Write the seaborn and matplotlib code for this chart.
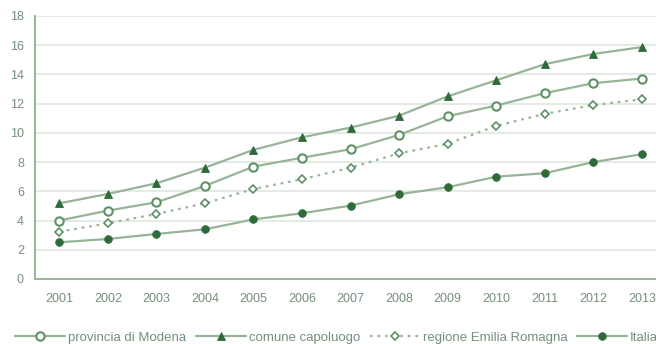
import matplotlib
matplotlib.use("Agg")
import matplotlib.pyplot as plt
from matplotlib.ticker import MultipleLocator, FixedLocator
import seaborn as sns
import pandas as pd

years = list(range(2001, 2014))
provincia_modena = [4.0, 4.68, 5.25, 6.37, 7.69, 8.3, 8.88, 9.86, 11.14, 11.87, 12.72, 13.4, 13.72]
comune_capoluogo = [5.18, 5.82, 6.55, 7.62, 8.84, 9.7, 10.36, 11.18, 12.5, 13.6, 14.7, 15.4, 15.87]
regione_emilia = [3.24, 3.81, 4.45, 5.18, 6.16, 6.83, 7.62, 8.6, 9.25, 10.48, 11.3, 11.9, 12.3]
italia = [2.51, 2.74, 3.08, 3.4, 4.08, 4.5, 5.02, 5.8, 6.28, 7.0, 7.24, 8.0, 8.54]

series_names = ["provincia di Modena", "comune capoluogo", "regione Emilia Romagna", "Italia"]
series_values = [provincia_modena, comune_capoluogo, regione_emilia, italia]

rows = []
for name, vals in zip(series_names, series_values):
    for y, v in zip(years, vals):
        rows.append({"anno": y, "valore": v, "serie": name})
df = pd.DataFrame(rows)

sns.set_theme(style="white")
plt.rcParams["font.family"] = ["Liberation Sans", "DejaVu Sans"]

LINE = "#97b499"
DARK = "#2f6a3a"
EDGE = "#5f9066"
TEXT = "#74907a"
GRID = "#e4ebe4"

styles = {
    "provincia di Modena": dict(marker="o", ms=6, mfc="white", mec=EDGE, mew=1.5, ls="-"),
    "comune capoluogo": dict(marker="^", ms=5.5, mfc=DARK, mec=DARK, mew=0.6, ls="-"),
    "regione Emilia Romagna": dict(marker="D", ms=4, mfc="white", mec=EDGE, mew=1.2, ls=(0, (1.2, 2.2))),
    "Italia": dict(marker="o", ms=5.5, mfc=DARK, mec=DARK, mew=0.6, ls="-"),
}

fig = plt.figure(figsize=(6.56, 3.44), dpi=100)
ax = fig.add_axes([0.0534, 0.189, 0.962, 0.7645])

for name in series_names:
    st = styles[name]
    sub = df[df["serie"] == name]
    sns.lineplot(data=sub, x="anno", y="valore", ax=ax, color=LINE, lw=1.6,
                 linestyle=st["ls"], marker=st["marker"], markersize=st["ms"],
                 markerfacecolor=st["mfc"], markeredgecolor=st["mec"],
                 markeredgewidth=st["mew"], label=name, legend=False)

ax.set_xlim(2000.5, 2013.5)
ax.set_ylim(0, 18)
ax.yaxis.set_major_locator(MultipleLocator(2))
ax.xaxis.set_major_locator(FixedLocator(years))
ax.xaxis.set_minor_locator(FixedLocator([y + 0.5 for y in [2000] + years]))
ax.set_xticklabels([str(y) for y in years])
ax.set_xlabel("")
ax.set_ylabel("")

ax.grid(axis="y", color=GRID, lw=1.4)
ax.set_axisbelow(True)
for s in ["top", "right"]:
    ax.spines[s].set_visible(False)
for s in ["left", "bottom"]:
    ax.spines[s].set_color(LINE)
    ax.spines[s].set_linewidth(1.4)

ax.tick_params(axis="x", which="major", length=0, pad=10, labelsize=9, labelcolor=TEXT)
ax.tick_params(axis="x", which="minor", length=3, width=1, color=LINE, direction="out")
ax.tick_params(axis="y", which="major", length=3, width=1, color=LINE, direction="out",
               pad=5, labelsize=9, labelcolor=TEXT)

handles, labels = ax.get_legend_handles_labels()
leg = fig.legend(handles, labels, loc="center left", bbox_to_anchor=(0.023, 0.018),
                 ncol=4, frameon=False, fontsize=9.5, handlelength=3.8,
                 handletextpad=0.2, columnspacing=0.75, labelcolor=TEXT,
                 borderaxespad=0, borderpad=0)

fig.savefig("out.png", dpi=100)
